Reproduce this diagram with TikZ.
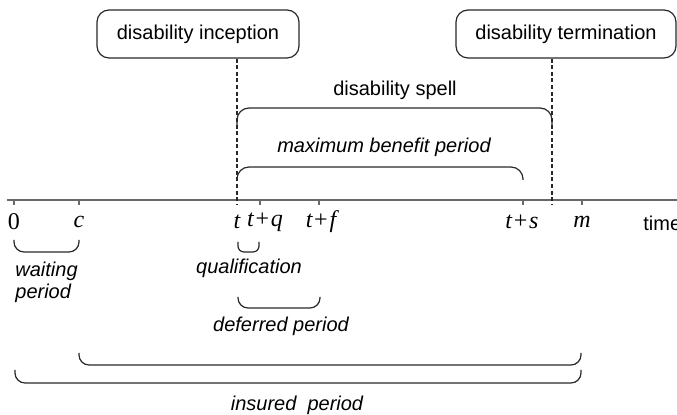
\documentclass[tikz,border=0pt]{standalone}
\usepackage{fontspec}
\setmainfont{Liberation Sans}
\newfontfamily\tmfont{Liberation Serif}
\definecolor{axisgray}{RGB}{105,105,105}
\definecolor{linegray}{RGB}{40,40,40}
\newcommand{\pl}{\hspace{0.9pt}{\upshape+}\hspace{0.9pt}}

\begin{document}
\begin{tikzpicture}[x=0.5pt,y=-0.5pt,
    event/.style ={draw=linegray, line width=0.6pt, rounded corners=6pt, minimum height=24pt, inner sep=0pt},
    brkt/.style ={draw=linegray, line width=0.6pt, rounded corners=5pt},
    dashline/.style ={draw=linegray, line width=0.6pt, dash pattern=on 2pt off 1.3pt},
    tickmark/.style ={draw=axisgray, line width=0.6pt},
    ticklabel/.style ={font=\tmfont\fontsize{12}{14}\selectfont\itshape, inner sep=0pt},
    period/.style ={font=\itshape, inner sep=0pt}]
   \useasboundingbox (0,0) rectangle (677,415);

   % events
   \node[event, minimum width=101pt] (incep) at (198,34) {disability inception};
   \node[event, minimum width=110pt] (term) at (566,34) {disability termination};

   % time axis
   \coordinate (axl) at (7,200);
   \coordinate (axr) at (677,200);
   \draw[axisgray, line width=1.1pt] (axl) -- (axr);
   \node[inner sep=0pt, anchor=west] (time) at (643,223) {time};
   \foreach \x in {14,79,260,319,523,582}
      \draw[tickmark] (\x,200) -- (\x,205);
   \coordinate (tt) at (237,205);
   \coordinate (te) at (552,205);
   \draw[dashline] (tt |- incep.south) -- (tt);
   \draw[dashline] (te |- term.south) -- (te);

   % tick labels
   \node[ticklabel] (l0) at (14,222) {\upshape 0};
   \node[ticklabel] (lc) at (79,222) {c};
   \node[ticklabel] (lt) at (237,222) {t};
   \node[ticklabel] (ltq) at (265,222) {t\pl q};
   \node[ticklabel] (ltf) at (321,222) {t\pl f};
   \node[ticklabel] (lts) at (522,222) {t\pl s};
   \node[ticklabel] (lm) at (582,222) {m};

   % periods above the axis
   \draw[brkt, rounded corners=6pt] (237,125) -- (237,108) -| (552,125);
   \node[inner sep=0pt] (spell) at (395,90) {disability spell};
   \draw[brkt, rounded corners=6pt] (237,180) -- (237,167) -| (523,180);
   \node[period] (maxben) at (384,147) {maximum benefit period};

   % periods below the axis
   \draw[brkt] (14,240) -- (14,252) -| (79,240);
   \node[period, align=left, anchor=north west, font=\itshape\fontsize{10}{11}\selectfont] (wait) at (15,262) {waiting\\period};
   \draw[brkt, rounded corners=3pt] (238,242) -- (238,252) -| (259,242);
   \node[period] (qual) at (249,268) {qualification};
   \draw[brkt] (238,297) -- (238,308) -| (320,297);
   \node[period] (defer) at (281,326) {deferred period};
   \draw[brkt] (79,353) -- (79,365) -| (581,353);
   \draw[brkt] (15,370) -- (15,383) -| (581,370);
   \node[period] (insured) at (297,405) {insured\ \ period};
\end{tikzpicture}
\end{document}
